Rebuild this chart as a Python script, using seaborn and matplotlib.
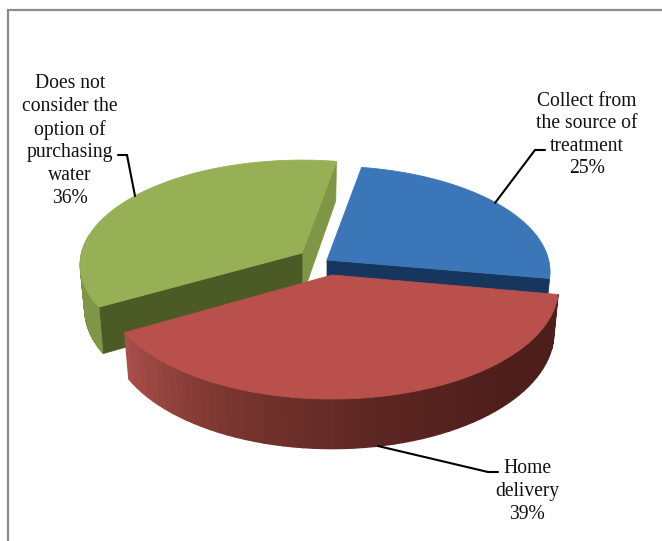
import numpy as np
import matplotlib
matplotlib.use("Agg")
import matplotlib.pyplot as plt
import seaborn as sns

categories = ["Collect from\nthe source of\ntreatment", "Home\ndelivery",
              "Does not\nconsider the\noption of\npurchasing\nwater"]
values = [25, 39, 36]

sns.set_theme(style="white")
plt.rcParams['font.family'] = ['Liberation Serif', 'DejaVu Serif']

# pie geometry in picture pixels
start_angle = -80
rx, ry, persp = 225, 110, 0.113
depth = 44
bottom_scale = 0.98
apexes = [(327, 260), (332, 275), (302, 253)]
x_scale = [0.985, 1.0, 0.98]
y_scale = [0.95, 1.0, 0.94]
wall_lw = [0.5, 1.0, 0.5]

top_colors = ["#3b76b8", "#b9504b", "#98b055"]
cut_colors = ["#17365d", "#4e1e1b", "#4c5a26"]
wall_palettes = [
    sns.blend_palette(["#17365d", "#17365d"], 60),
    sns.blend_palette(["#4e1e1b", "#4e1e1b", "#5c2622", "#7a352f", "#a94e4a"], 60),
    sns.blend_palette(["#7f9645", "#7f9645"], 60),
]
side_green = "#7f9645"


def project(i, phi, low=False):
    # pie plane to picture, with a bit of perspective
    t = np.radians(phi)
    w = 1 / (1 - persp * np.sin(t))
    x = rx * x_scale[i] * np.cos(t) * w
    y = ry * y_scale[i] * np.sin(t) * w
    if low:
        return apexes[i][0] + bottom_scale * x, apexes[i][1] + y + depth * w
    return apexes[i][0] + x, apexes[i][1] + y


def radial_wall(ax, i, phi, color):
    ax0, ay0 = apexes[i]
    px, py = project(i, phi)
    qx, qy = project(i, phi, low=True)
    ax.fill([ax0, px, qx, ax0], [ay0, py, qy, ay0 + depth], color=color, lw=0.5)


def outer_wall(ax, i, a, b):
    angles = np.linspace(a, b, 61)
    for k in range(60):
        p0 = project(i, angles[k])
        p1 = project(i, angles[k + 1])
        q1 = project(i, angles[k + 1], low=True)
        q0 = project(i, angles[k], low=True)
        c = wall_palettes[i][k]
        ax.fill([p0[0], p1[0], q1[0], q0[0]], [p0[1], p1[1], q1[1], q0[1]],
                color=c, lw=wall_lw[i])


def top_face(ax, i, a, b):
    angles = np.linspace(a, b, 120)
    pts = [project(i, p) for p in angles]
    xs = [apexes[i][0]] + [p[0] for p in pts]
    ys = [apexes[i][1]] + [p[1] for p in pts]
    ax.fill(xs, ys, color=top_colors[i], lw=0.6)


fig = plt.figure(figsize=(6.62, 5.41), dpi=100)
ax = fig.add_axes([0, 0, 1, 1])
ax.set_xlim(0, 662)
ax.set_ylim(541, 0)
ax.axis("off")

# slice angles come from the values
sweeps = [v / sum(values) * 360 for v in values]
starts = [start_angle + sum(sweeps[:i]) for i in range(3)]
ends = [s + w for s, w in zip(starts, sweeps)]

# back to front: blue, green, red
radial_wall(ax, 0, ends[0], cut_colors[0])
top_face(ax, 0, starts[0], ends[0])

radial_wall(ax, 2, ends[2], side_green)
radial_wall(ax, 2, starts[2], cut_colors[2])
outer_wall(ax, 2, starts[2], 190)
top_face(ax, 2, starts[2], ends[2])

outer_wall(ax, 1, starts[1], ends[1])
top_face(ax, 1, starts[1], ends[1])

# chart frame, only top and left show
ax.plot([662, 8, 8], [10, 10, 541], color="#8c8c8c", lw=1.6, solid_joinstyle="miter")

# leader lines
line_kw = dict(color="black", lw=1.5, solid_joinstyle="miter")
ax.plot([118, 127, 135], [155, 155, 196], **line_kw)
ax.plot([545, 535, 495], [150, 150, 203], **line_kw)
ax.plot([378, 488, 498], [446, 472, 472], **line_kw)

# labels
label_pos = [(587, 135), (527, 491.5), (70, 141)]
for cat, v, (x, y) in zip(categories, values, label_pos):
    ax.text(x, y, f"{cat}\n{v}%", ha="center", va="center", fontsize=14.1,
            color="#111111", linespacing=1.26)

fig.savefig("out.png", dpi=100)
